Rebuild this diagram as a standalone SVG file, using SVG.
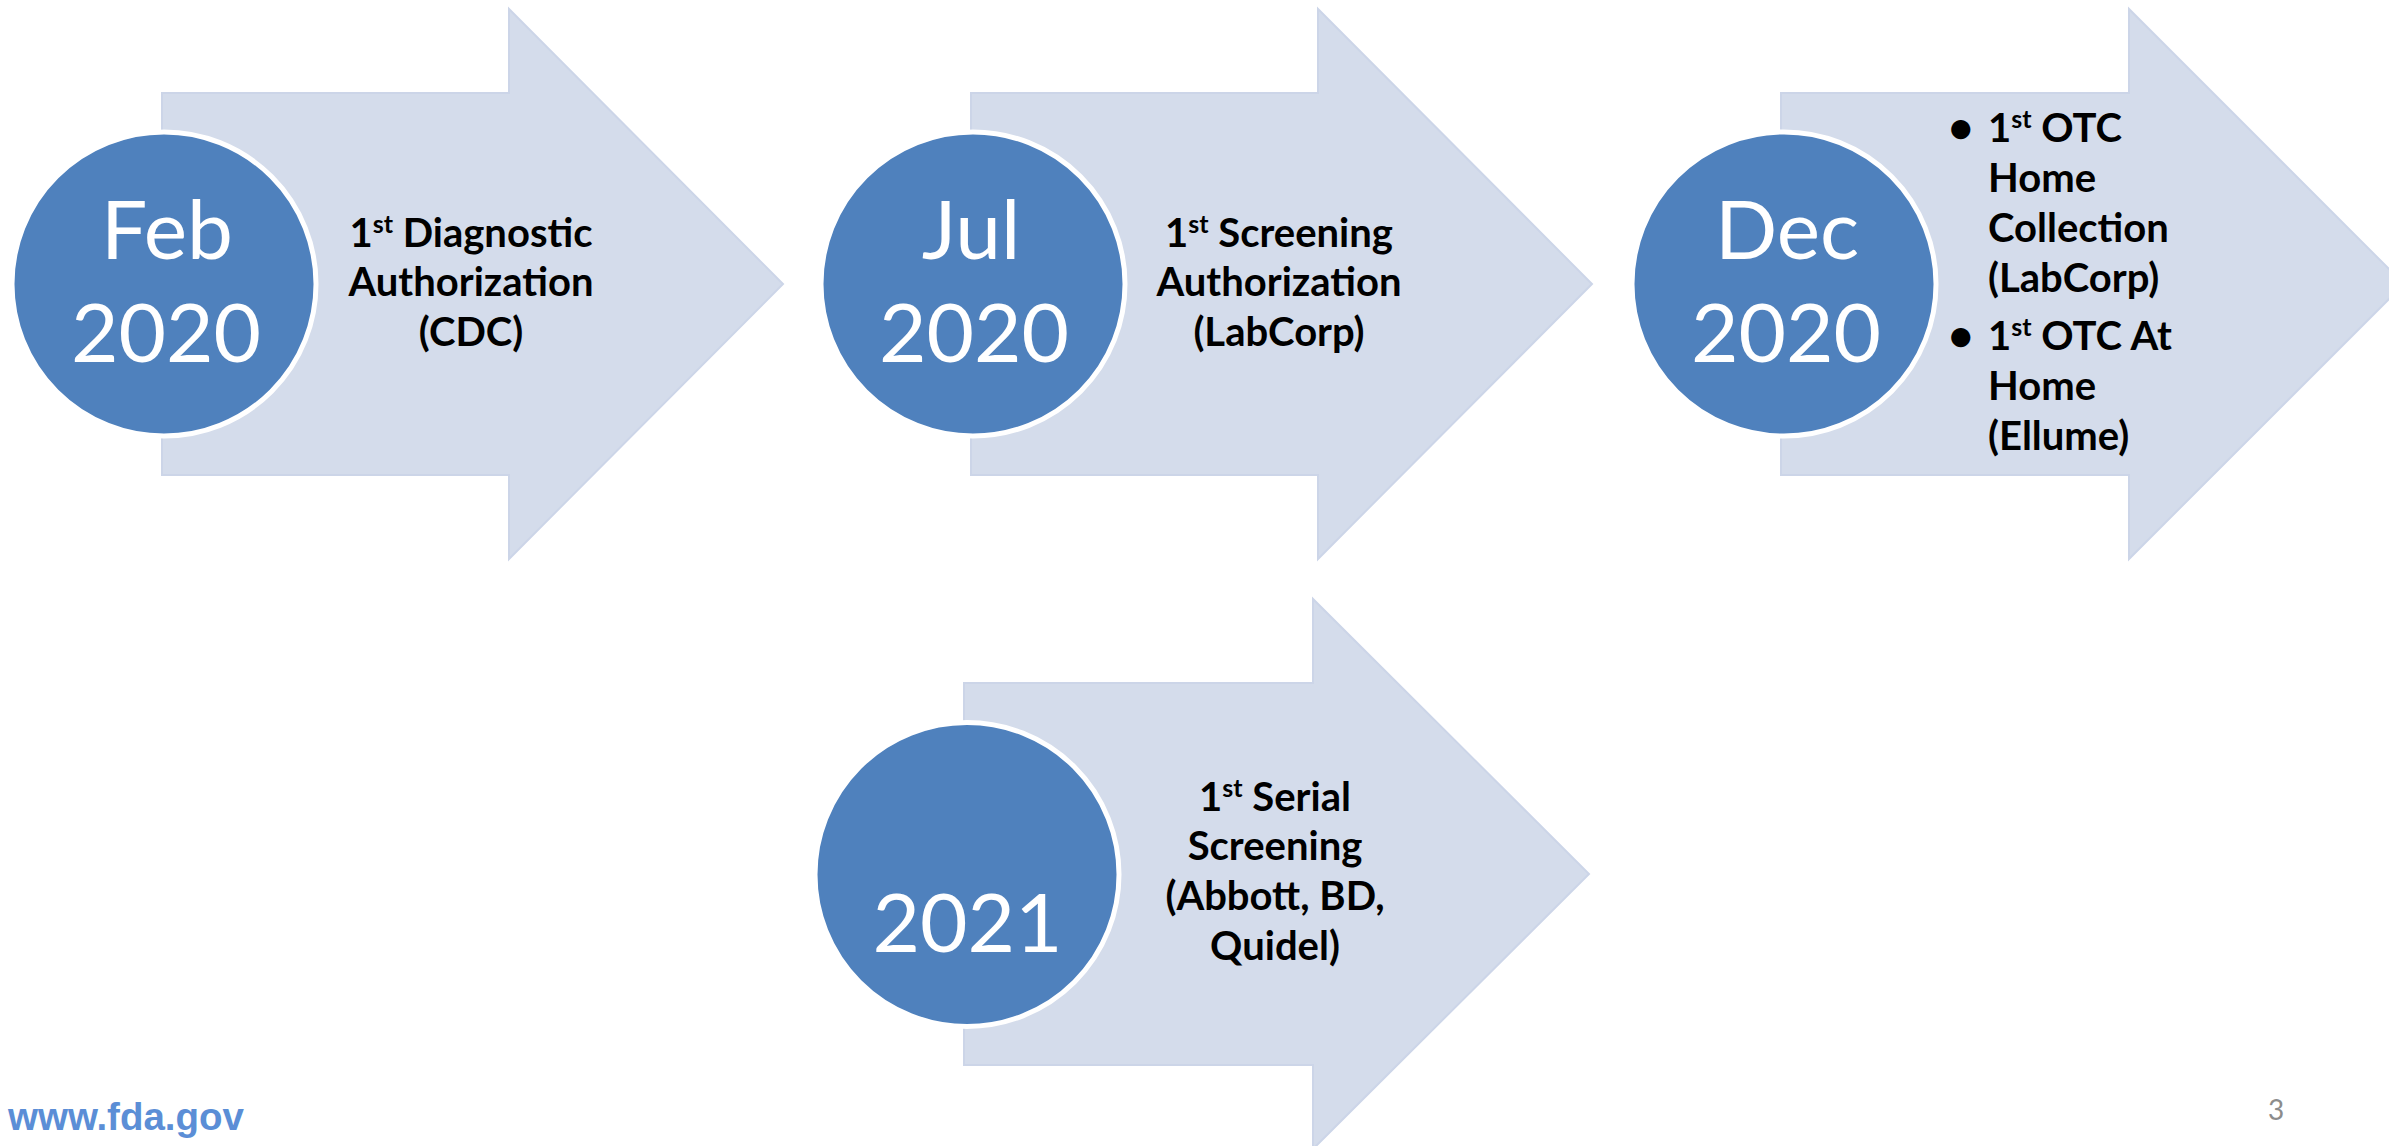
<svg xmlns="http://www.w3.org/2000/svg" width="2389" height="1146" viewBox="0 0 2389 1146">
  <style>
    .arrow { fill: #D4DCEB; stroke: #CCD5E8; stroke-width: 2; }
    .disc { fill: #4F81BD; stroke: #FFFFFF; stroke-width: 5; }
    .date { font-family: Lato, "Open Sans", "Liberation Sans", sans-serif; font-size: 82px; fill: #FFFFFF; text-anchor: middle; }
    .label { font-family: Lato, "Open Sans", "Liberation Sans", sans-serif; font-weight: 700; font-size: 40px; fill: #000000; }
    .mid { text-anchor: middle; }
    .sup { font-size: 25px; }
    .bullet { font-family: Lato, "Open Sans", sans-serif; font-weight: 700; font-size: 44px; fill: #000000; }
    .footer { font-family: "Liberation Sans", Arial, sans-serif; font-weight: 700; font-size: 38.5px; fill: #5B8ED6; }
    .pagenum { font-family: Lato, "Liberation Sans", sans-serif; font-size: 28px; fill: #8C8C8C; }
  </style>

  <rect width="2389" height="1146" fill="#FFFFFF"/>

  <!-- Milestone: Feb 2020 -->
  <g id="node-feb-2020">
    <path class="arrow" d="M162,93 H509 V9 L783,284 L509,559 V475 H162 Z"/>
    <circle class="disc" cx="164" cy="284" r="152"/>
    <text class="date" x="167" y="259">Feb</text>
    <text class="date" x="166" y="362">2020</text>
    <text class="label mid" x="471" y="247">1<tspan class="sup" dy="-14">st</tspan><tspan dy="14"> Diagnostic</tspan></text>
    <text class="label mid" x="471" y="296">Authorization</text>
    <text class="label mid" x="471" y="346">(CDC)</text>
  </g>

  <!-- Milestone: Jul 2020 -->
  <g id="node-jul-2020">
    <path class="arrow" d="M971,93 H1318 V9 L1592,284 L1318,559 V475 H971 Z"/>
    <circle class="disc" cx="973" cy="284" r="152"/>
    <text class="date" x="971" y="259">Jul</text>
    <text class="date" x="974" y="362">2020</text>
    <text class="label mid" x="1279" y="247">1<tspan class="sup" dy="-14">st</tspan><tspan dy="14"> Screening</tspan></text>
    <text class="label mid" x="1279" y="296">Authorization</text>
    <text class="label mid" x="1279" y="346">(LabCorp)</text>
  </g>

  <!-- Milestone: Dec 2020 -->
  <g id="node-dec-2020">
    <path class="arrow" d="M1781,93 H2129 V9 L2404,284 L2129,559 V475 H1781 Z"/>
    <circle class="disc" cx="1784" cy="284" r="152"/>
    <text class="date" x="1787" y="259">Dec</text>
    <text class="date" x="1786" y="362">2020</text>
    <text class="bullet" x="1948" y="143">•</text>
    <text class="label" x="1988" y="142">1<tspan class="sup" dy="-14">st</tspan><tspan dy="14"> OTC</tspan></text>
    <text class="label" x="1988" y="192">Home</text>
    <text class="label" x="1988" y="242">Collection</text>
    <text class="label" x="1988" y="292">(LabCorp)</text>
    <text class="bullet" x="1948" y="351">•</text>
    <text class="label" x="1988" y="350">1<tspan class="sup" dy="-14">st</tspan><tspan dy="14"> OTC At</tspan></text>
    <text class="label" x="1988" y="400">Home</text>
    <text class="label" x="1988" y="450">(Ellume)</text>
  </g>

  <!-- Milestone: 2021 -->
  <g id="node-2021">
    <path class="arrow" d="M964,683 H1313 V599 L1589,874 L1313,1149 V1065 H964 Z"/>
    <circle class="disc" cx="967" cy="874.5" r="152"/>
    <text class="date" x="967.5" y="952">2021</text>
    <text class="label mid" x="1275" y="811">1<tspan class="sup" dy="-14">st</tspan><tspan dy="14"> Serial</tspan></text>
    <text class="label mid" x="1275" y="860">Screening</text>
    <text class="label mid" x="1275" y="910">(Abbott, BD,</text>
    <text class="label mid" x="1275" y="960">Quidel)</text>
  </g>

  <g id="connectors"/>

  <!-- Footer -->
  <text class="footer" x="8" y="1130">www.fda.gov</text>
  <text class="pagenum" x="2268" y="1120">3</text>
</svg>
